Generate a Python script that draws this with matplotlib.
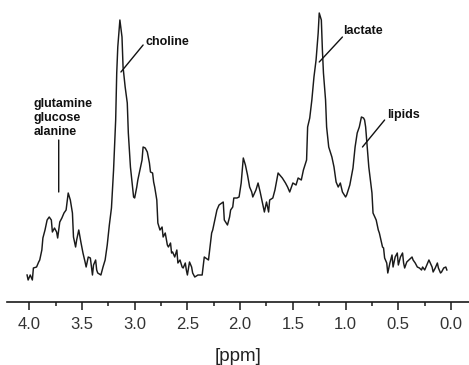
import matplotlib
matplotlib.use('Agg')
import matplotlib.pyplot as plt
from matplotlib.ticker import MultipleLocator

plt.rcParams['font.family'] = ['Liberation Sans', 'DejaVu Sans']

# chemical shift (ppm) and signal intensity (arbitrary units)
ppm = [4.02, 4.01, 3.99, 3.97, 3.96, 3.93, 3.91, 3.90, 3.88, 3.87, 3.85, 3.83, 3.81, 3.79,
       3.78, 3.76, 3.74, 3.73, 3.72, 3.71, 3.69, 3.67, 3.65, 3.63, 3.61, 3.59, 3.58, 3.56,
       3.55, 3.53, 3.51, 3.49, 3.47, 3.46, 3.44, 3.42, 3.40, 3.39, 3.37, 3.36, 3.35, 3.32,
       3.30, 3.28, 3.26, 3.24, 3.22, 3.20, 3.18, 3.17, 3.16, 3.14, 3.12, 3.11, 3.09, 3.07,
       3.06, 3.04, 3.02, 3.01, 3.00, 2.98, 2.97, 2.95, 2.93, 2.92, 2.90, 2.88, 2.86, 2.85,
       2.83, 2.82, 2.81, 2.79, 2.78, 2.76, 2.74, 2.73, 2.71, 2.69, 2.68, 2.66, 2.65, 2.64,
       2.62, 2.60, 2.59, 2.57, 2.55, 2.54, 2.52, 2.51, 2.50, 2.48, 2.46, 2.45, 2.43, 2.40,
       2.36, 2.34, 2.30, 2.27, 2.26, 2.22, 2.20, 2.16, 2.15, 2.12, 2.10, 2.09, 2.07, 2.06,
       2.03, 2.01, 1.99, 1.97, 1.95, 1.93, 1.91, 1.89, 1.88, 1.85, 1.83, 1.81, 1.78, 1.77,
       1.75, 1.73, 1.72, 1.69, 1.67, 1.64, 1.60, 1.57, 1.55, 1.53, 1.50, 1.47, 1.45, 1.42,
       1.40, 1.37, 1.36, 1.34, 1.32, 1.30, 1.28, 1.26, 1.25, 1.23, 1.22, 1.21, 1.19, 1.18,
       1.16, 1.13, 1.11, 1.09, 1.07, 1.05, 1.03, 1.00, 0.99, 0.96, 0.93, 0.91, 0.89, 0.87,
       0.85, 0.83, 0.82, 0.81, 0.80, 0.78, 0.75, 0.74, 0.71, 0.69, 0.68, 0.65, 0.64, 0.63,
       0.61, 0.60, 0.58, 0.56, 0.55, 0.53, 0.51, 0.50, 0.48, 0.46, 0.45, 0.44, 0.42, 0.40,
       0.37, 0.36, 0.34, 0.32, 0.30, 0.28, 0.27, 0.25, 0.23, 0.21, 0.18, 0.17, 0.15, 0.13,
       0.12, 0.10, 0.09, 0.07, 0.05, 0.04]
intensity = [25, 20, 25, 20, 32, 33, 38, 40, 50, 62, 70, 80, 83, 80,
             68, 72, 68, 62, 70, 78, 82, 87, 90, 107, 100, 87, 63, 53,
             60, 70, 58, 47, 38, 33, 43, 42, 25, 35, 40, 30, 27, 25,
             33, 40, 55, 75, 92, 130, 180, 227, 253, 280, 263, 233, 213, 197,
             167, 133, 113, 103, 102, 113, 120, 130, 140, 153, 152, 148, 137, 128,
             127, 118, 113, 100, 77, 70, 73, 63, 67, 55, 53, 57, 47, 48,
             43, 50, 37, 40, 33, 32, 37, 30, 25, 38, 33, 27, 23, 25,
             25, 43, 40, 67, 70, 90, 95, 98, 80, 75, 83, 90, 93, 102,
             102, 103, 117, 142, 135, 125, 113, 108, 103, 110, 117, 108, 93, 88,
             98, 88, 100, 102, 110, 127, 122, 117, 113, 108, 117, 115, 122, 120,
             130, 140, 173, 182, 200, 223, 240, 267, 287, 280, 250, 227, 200, 173,
             153, 143, 133, 118, 113, 117, 108, 103, 105, 115, 132, 153, 167, 173,
             183, 182, 180, 173, 160, 133, 107, 87, 80, 70, 67, 53, 52, 42,
             37, 27, 37, 45, 33, 43, 47, 35, 43, 47, 37, 32, 38, 40,
             43, 40, 37, 33, 32, 30, 33, 30, 35, 40, 33, 28, 32, 37,
             32, 27, 28, 32, 33, 30]

tick_values = [4.0, 3.5, 3.0, 2.5, 2.0, 1.5, 1.0, 0.5, 0.0]

fig = plt.figure(figsize=(4.69, 3.65), dpi=100)
ax = fig.add_axes([0.015, 0.1726, 0.985, 0.8274])

ax.plot(ppm, intensity, color='#1a1a1a', linewidth=1.05)

ax.set_xlim(4.21, -0.17)
ax.set_ylim(-2, 300)

for s in ['left', 'top', 'right']:
    ax.spines[s].set_visible(False)
ax.spines['bottom'].set_linewidth(1.2)
ax.spines['bottom'].set_color('#1a1a1a')
ax.set_yticks([])

ax.set_xticks(tick_values)
ax.set_xticklabels(['{:.1f}'.format(t) for t in tick_values])
ax.xaxis.set_minor_locator(MultipleLocator(0.25))
ax.tick_params(axis='x', which='major', length=6, width=1.1, color='#1a1a1a',
               labelsize=12, labelcolor='#333333', pad=5)
ax.tick_params(axis='x', which='minor', length=3, width=1.1, color='#1a1a1a')
ax.set_xlabel('[ppm]', fontsize=13.5, color='#222222', labelpad=11)

# peak labels
lab = dict(fontsize=9, fontweight='bold', color='#111111', ha='left', va='center')
line = dict(arrowstyle='-', color='#111111', linewidth=1.0, shrinkA=0, shrinkB=0)
ax.annotate('', xy=(3.13, 228), xytext=(2.92, 255), arrowprops=line)
ax.text(2.90, 258, 'choline', **lab)
ax.annotate('', xy=(1.25, 238), xytext=(1.03, 263), arrowprops=line)
ax.text(1.02, 269, 'lactate', **lab)
ax.annotate('', xy=(0.84, 153), xytext=(0.63, 180), arrowprops=line)
ax.text(0.61, 185, 'lipids', **lab)
ax.annotate('', xy=(3.72, 108), xytext=(3.72, 160), arrowprops=line)
ax.text(3.955, 182, 'glutamine\nglucose\nalanine', linespacing=1.25, **lab)

plt.savefig('out.png', dpi=100)
